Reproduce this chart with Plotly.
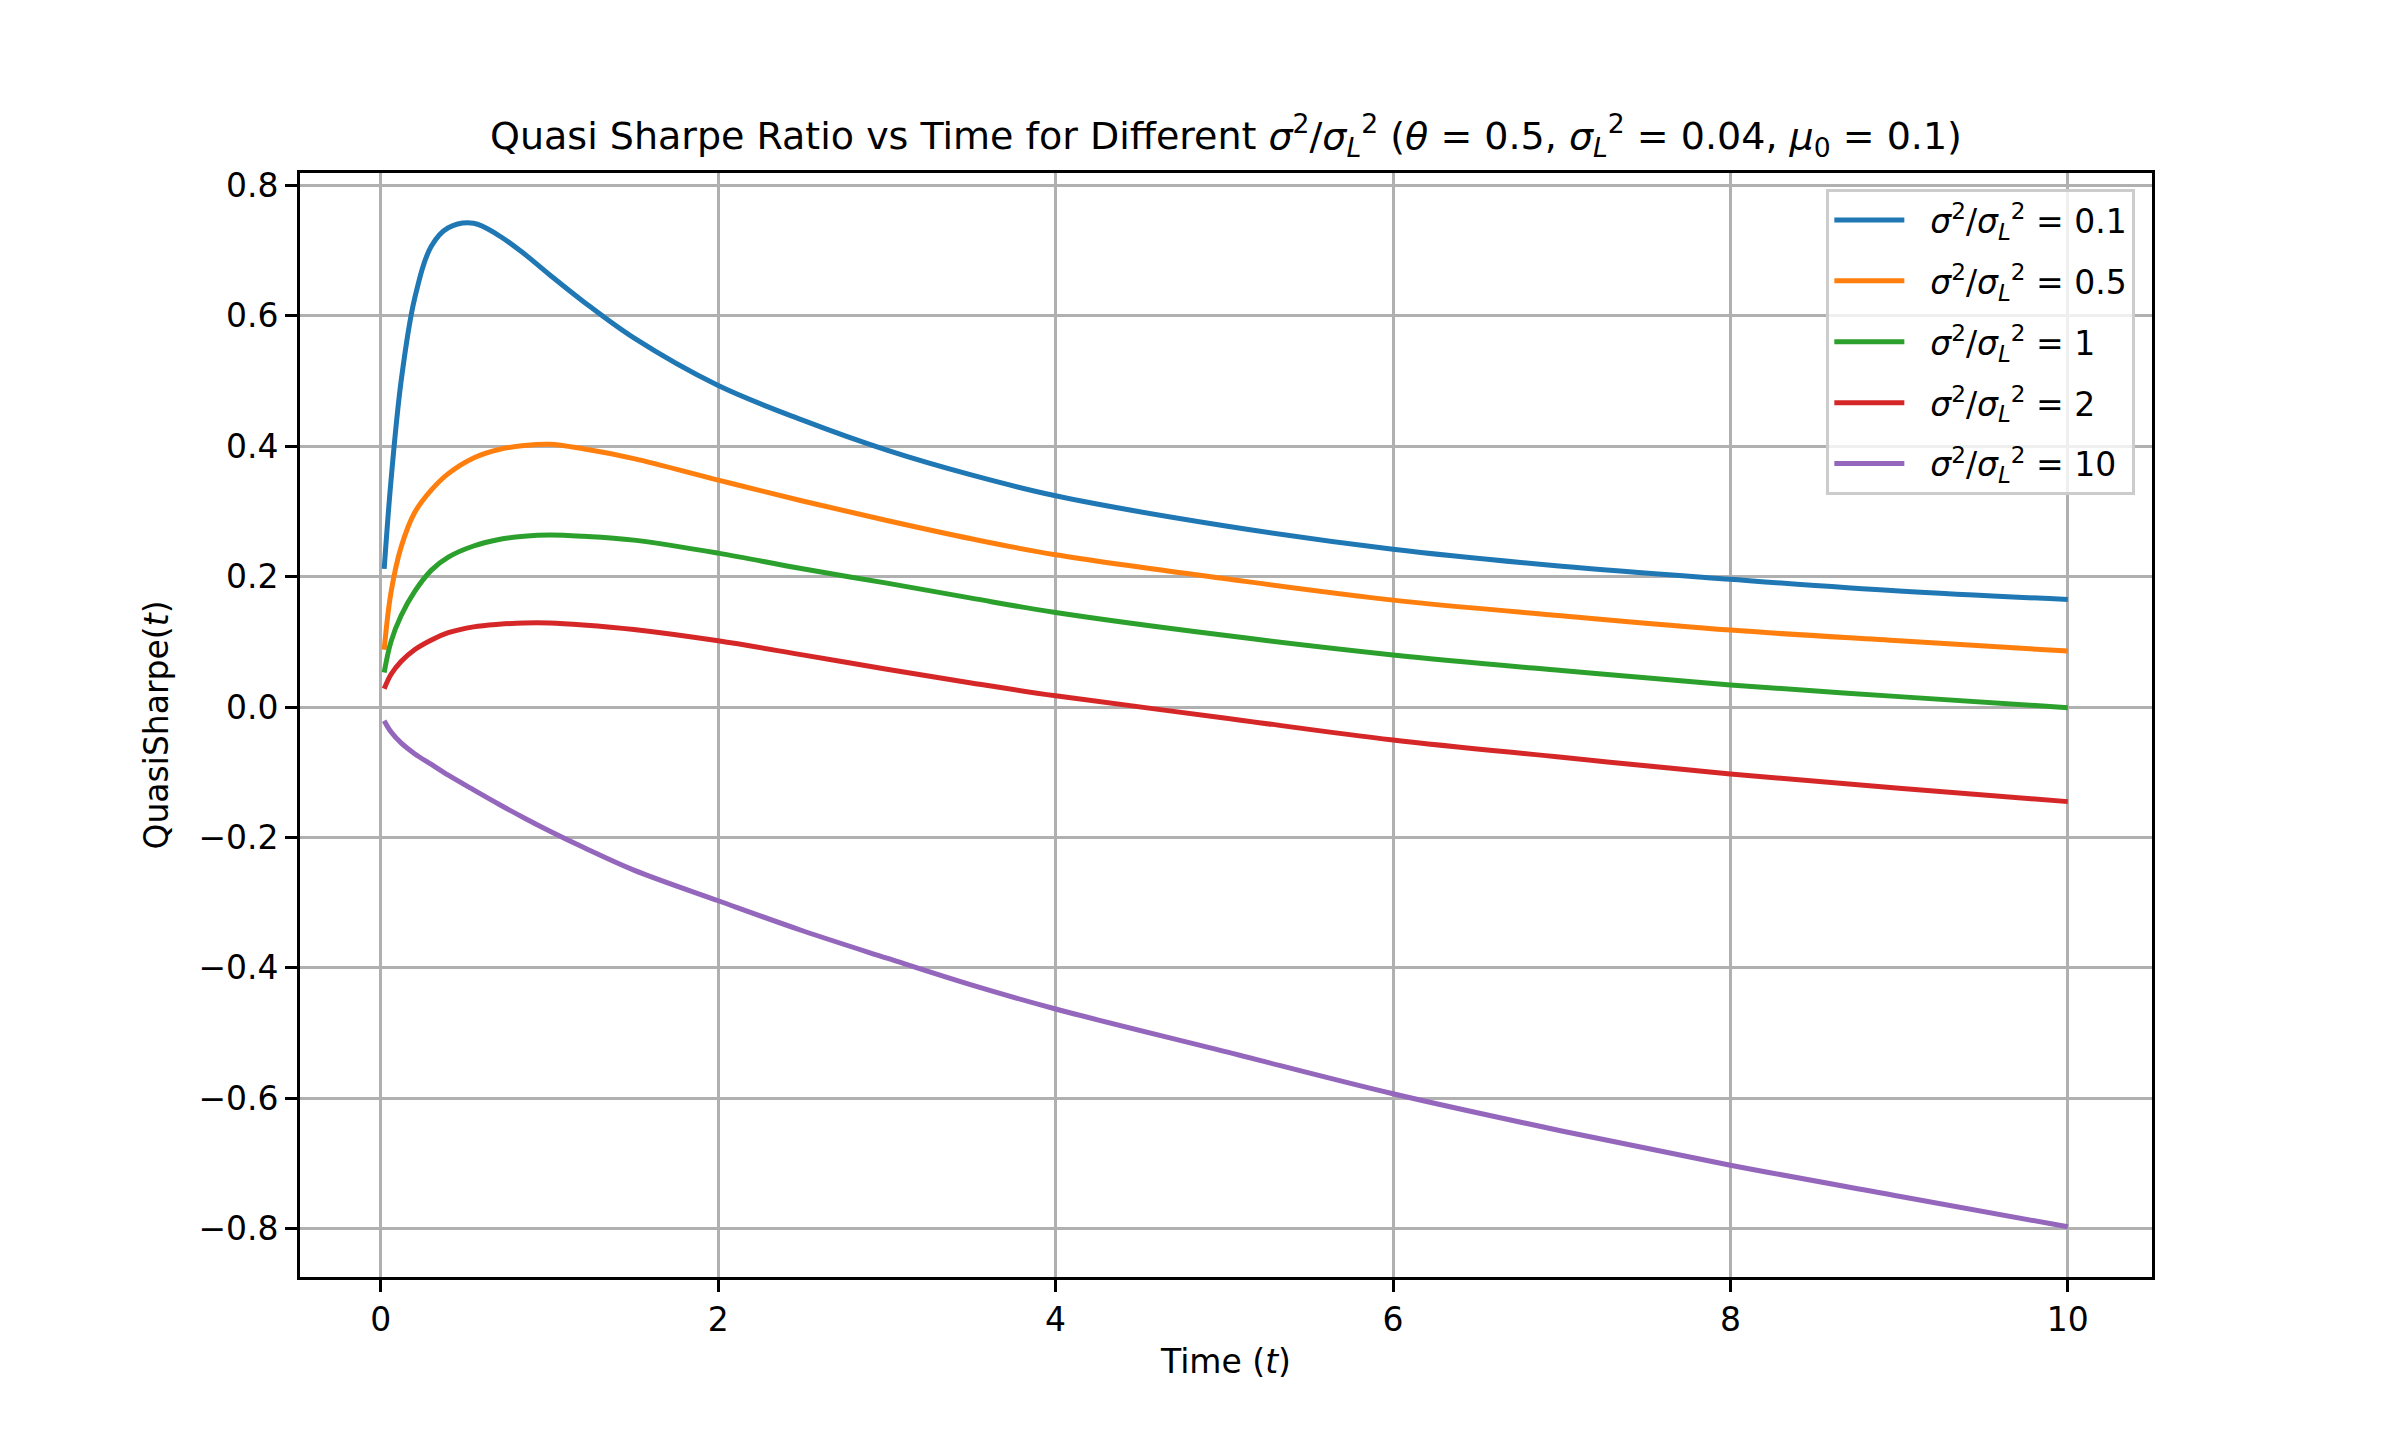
import plotly.graph_objects as go

# Time samples (t)
time_t = [0.02, 0.06, 0.12, 0.2, 0.3, 0.4, 0.55, 0.7, 0.85, 1.0, 1.2,
          1.5, 2.0, 2.5, 3.0, 3.5, 4.0, 5.0, 6.0, 7.0, 8.0, 9.0, 10.0]

ratio_labels = ["0.1", "0.5", "1", "2", "10"]

qs_01 = [0.212, 0.346, 0.499, 0.626, 0.707, 0.735, 0.742, 0.723, 0.695, 0.663, 0.622,
         0.566, 0.493, 0.44, 0.394, 0.356, 0.324, 0.278, 0.242, 0.216, 0.196, 0.178, 0.165]
qs_05 = [0.088, 0.175, 0.245, 0.298, 0.333, 0.358, 0.382, 0.395, 0.401, 0.403, 0.396,
         0.381, 0.348, 0.316, 0.286, 0.258, 0.2335, 0.197, 0.164, 0.140, 0.118, 0.1016, 0.0858]
qs_1 = [0.053, 0.100, 0.140, 0.177, 0.210, 0.230, 0.247, 0.257, 0.262, 0.264, 0.262,
        0.256, 0.236, 0.212, 0.19, 0.167, 0.145, 0.110, 0.080, 0.056, 0.034, 0.016, -0.001]
qs_2 = [0.028, 0.050, 0.070, 0.088, 0.103, 0.114, 0.123, 0.127, 0.129, 0.129, 0.126,
        0.119, 0.1016, 0.08, 0.058, 0.037, 0.0173, -0.0167, -0.0506, -0.077, -0.1027, -0.1246, -0.145]
qs_10 = [-0.021, -0.038, -0.055, -0.0715, -0.088, -0.1045, -0.127, -0.149, -0.170, -0.190, -0.215,
         -0.25, -0.297, -0.343, -0.385, -0.426, -0.463, -0.528, -0.593, -0.650, -0.7025,
         -0.750, -0.797]

series = [qs_01, qs_05, qs_1, qs_2, qs_10]
colors = ["#1f77b4", "#ff7f0e", "#2ca02c", "#d62728", "#9467bd"]

FONT = "DejaVu Sans"

fig = go.Figure()
for lab, vals, col in zip(ratio_labels, series, colors):
    fig.add_trace(go.Scatter(
        x=time_t, y=vals, mode="lines",
        line=dict(color=col, width=5, shape="spline", smoothing=1.0),
        name="\u00a0\u00a0<i>σ</i><sup>2</sup>/<i>σ</i><sub><i>L</i></sub><sup>2</sup> = " + lab,
        legendgroup=lab,
    ))

xmin, xmax = min(time_t), max(time_t)
allv = [v for s in series for v in s]
ymin, ymax = min(allv), max(allv)
xpad = 0.05 * (xmax - xmin)
ypad = 0.05 * (ymax - ymin)

axis_common = dict(
    showline=True, linecolor="black", linewidth=2.7, mirror=True,
    ticks="outside", ticklen=12, tickwidth=2.7, tickcolor="black",
    showgrid=True, gridcolor="#b0b0b0", gridwidth=2.7,
    zeroline=False,
    tickfont=dict(family=FONT, size=33, color="black"),
)

fig.update_layout(
    width=2392, height=1435,
    paper_bgcolor="white", plot_bgcolor="white",
    margin=dict(l=292, r=248, t=165, b=166),
    font=dict(family=FONT, color="black"),
    title=dict(
        text="Quasi Sharpe Ratio vs Time for Different <i>σ</i><sup>2</sup>/<i>σ</i><sub><i>L</i></sub><sup>2</sup> "
             "(<i>θ</i> = 0.5, <i>σ</i><sub><i>L</i></sub><sup>2</sup> = 0.04, <i>μ</i><sub>0</sub> = 0.1)",
        x=0.5, xref="paper", xanchor="center",
        y=1 - 128 / 1435, yref="container", yanchor="middle",
        font=dict(family=FONT, size=38, color="black"),
    ),
    xaxis=dict(
        range=[xmin - xpad, xmax + xpad],
        tickvals=[0, 2, 4, 6, 8, 10],
        title=dict(text="Time (<i>t</i>)", font=dict(family=FONT, size=33), standoff=12),
        **axis_common,
    ),
    yaxis=dict(
        range=[ymin - ypad, ymax + ypad],
        tickvals=[-0.8, -0.6, -0.4, -0.2, 0.0, 0.2, 0.4, 0.6, 0.8],
        ticktext=["−0.8", "−0.6", "−0.4", "−0.2", "0.0", "0.2", "0.4", "0.6", "0.8"],
        title=dict(text="QuasiSharpe(<i>t</i>)", font=dict(family=FONT, size=33), standoff=20),
        **axis_common,
    ),
    legend=dict(
        x=0.991, y=0.9855, xanchor="right", yanchor="top",
        bgcolor="rgba(255,255,255,0.8)", bordercolor="#cccccc", borderwidth=3,
        font=dict(family=FONT, size=33, color="black"),
        tracegroupgap=15, itemwidth=70,
    ),
    showlegend=True,
)

fig.write_html("out.html")
